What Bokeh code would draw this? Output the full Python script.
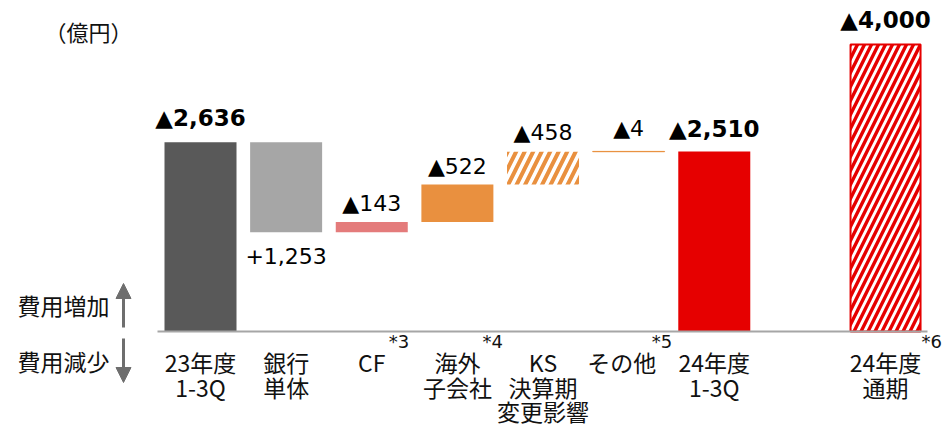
from bokeh.plotting import figure
from bokeh.models import Range1d, Arrow, NormalHead
from bokeh.embed import file_html
from bokeh.resources import INLINE
from bokeh.core.properties import value

# ---------------- data ----------------
label_line1 = ["23年度", "銀行", "CF", "海外", "KS", "その他", "24年度", "24年度"]
label_line2 = ["1-3Q", "単体", "", "子会社", "決算期", "", "1-3Q", "通期"]
label_line3 = ["", "", "", "", "変更影響", "", "", ""]
notes = ["", "", "*3", "*4", "", "*5", "", "*6"]

start_total = 2636                      # 23年度1-3Q
changes = [-1253, 143, 522, 458, 4]     # 銀行単体, CF, 海外子会社, KS, その他
end_total = 2510                        # 24年度1-3Q
full_year = 4000                        # 24年度通期

# ---------------- derived waterfall ----------------
bottoms, tops, vals = [0], [start_total], [start_total]
level = start_total
for c in changes:
    new = level + c
    bottoms.append(min(level, new))
    tops.append(max(level, new))
    vals.append(c)
    level = new
bottoms += [0, 0]
tops += [end_total, full_year]
vals += [end_total, full_year]

xs = [0, 1, 2, 3, 4, 5, 6, 8]
labels = [("▲" if v > 0 else "+") + f"{abs(v):,}" for v in vals]

# ---------------- figure geometry ----------------
W, H = 945, 426
STEP = 85.63          # px per category
SCALE = 0.07175       # px per 億円
X0 = -200 / STEP
X1 = X0 + W / STEP
Y1 = 331 / SCALE
Y0 = Y1 - H / SCALE
TB = 9                # text baseline correction (px)

def sx(px):
    return X0 + px / STEP

def ty(py):
    # data y for a text whose baseline should sit at screen row py
    return Y1 - (py - TB) / SCALE

PXX = 1 / STEP
PXY = 1 / SCALE

p = figure(width=W, height=H, x_range=Range1d(X0, X1), y_range=Range1d(Y0, Y1),
           output_backend="svg", toolbar_location=None, min_border=0,
           outline_line_color=None, background_fill_color="white",
           border_fill_color="white")
p.axis.visible = False
p.grid.visible = False

BW = 72 / STEP
colors = ["#595959", "#a6a6a6", "#e47b7b", "#e9903f", "#e9903f", "#e9903f", "#e60000", "#e60000"]

solid = [0, 1, 2, 3, 6]
p.vbar(x=[xs[i] for i in solid], bottom=[bottoms[i] for i in solid],
       top=[tops[i] for i in solid], width=BW,
       fill_color=[colors[i] for i in solid], line_color=None)

# KS hatched
p.vbar(x=[xs[4]], bottom=[bottoms[4]], top=[tops[4]], width=BW,
       fill_color="white", line_color=None,
       hatch_pattern="/", hatch_color=colors[4], hatch_scale=17, hatch_weight=4)

# その他 (thin)
p.vbar(x=[xs[5]], bottom=[bottoms[5]], top=[tops[5]], width=BW,
       fill_color=colors[5], line_color=colors[5], line_width=1)

# 24年度通期 hatched with outline
p.vbar(x=[xs[7]], bottom=[bottoms[7]], top=[tops[7]], width=BW - 2 * PXX,
       fill_color="white", line_color=colors[7], line_width=2,
       hatch_pattern="/", hatch_color=colors[7], hatch_scale=14, hatch_weight=3.4)

# baseline
p.line(x=[sx(157), sx(927)], y=[0, 0], line_color="#a6a6a6", line_width=2)

# ---------------- data labels ----------------
bold_idx = [0, 6, 7]
reg_idx = [2, 3, 4, 5]
gaps = {0: 15, 6: 13, 7: 16, 2: 10, 3: 9, 4: 10, 5: 14}

p.text(x=[xs[i] for i in bold_idx], y=[tops[i] + (gaps[i] + TB) * PXY for i in bold_idx],
       text=[labels[i] for i in bold_idx], text_font=value("DejaVu Sans"),
       text_font_style="bold", text_font_size="23px", text_align="center",
       text_baseline="alphabetic", text_color="#000000")
p.text(x=[xs[i] for i in reg_idx], y=[tops[i] + (gaps[i] + TB) * PXY for i in reg_idx],
       text=[labels[i] for i in reg_idx], text_font=value("DejaVu Sans"),
       text_font_size="22px", text_align="center",
       text_baseline="alphabetic", text_color="#000000")
# decrease label below bar
p.text(x=[xs[1]], y=[bottoms[1] - (33 - TB) * PXY], text=[labels[1]],
       text_font=value("DejaVu Sans"), text_font_size="22px", text_align="center",
       text_baseline="alphabetic", text_color="#000000")

# ---------------- category labels ----------------
cat_x = [x for x in xs]
cat_x[5] = xs[5] - 7 * PXX
for lines, base in ((label_line1, 370), (label_line2, 395), (label_line3, 419)):
    idx = [i for i, t in enumerate(lines) if t]
    p.text(x=[cat_x[i] for i in idx], y=[ty(base)] * len(idx), text=[lines[i] for i in idx],
           text_font=value("Noto Sans CJK JP"), text_font_size="23px",
           text_align="center", text_baseline="alphabetic", text_color="#111111")

note_off = {2: 17, 3: 25, 5: 23, 7: 36}
idx = [i for i, t in enumerate(notes) if t]
p.text(x=[xs[i] + note_off[i] * PXX for i in idx], y=[ty(350)] * len(idx),
       text=[notes[i] for i in idx], text_font=value("DejaVu Sans"),
       text_font_size="18px", text_align="left", text_baseline="alphabetic",
       text_color="#111111")

# ---------------- side annotations ----------------
p.text(x=[sx(88)], y=[ty(39)], text=["（億円）"], text_font=value("Noto Sans CJK JP"),
       text_font_size="22px", text_align="center", text_baseline="alphabetic",
       text_color="#111111")
p.text(x=[sx(63), sx(63)], y=[ty(313), ty(369)], text=["費用増加", "費用減少"],
       text_font=value("Noto Sans CJK JP"), text_font_size="23px",
       text_align="center", text_baseline="alphabetic", text_color="#111111")

arrow_col = "#6e6e6e"
p.add_layout(Arrow(end=NormalHead(size=15, fill_color=arrow_col, line_color=arrow_col),
                   x_start=sx(123), y_start=ty(327 + TB), x_end=sx(123), y_end=ty(283 + TB),
                   line_color=arrow_col, line_width=3))
p.add_layout(Arrow(end=NormalHead(size=15, fill_color=arrow_col, line_color=arrow_col),
                   x_start=sx(123), y_start=ty(338 + TB), x_end=sx(123), y_end=ty(382 + TB),
                   line_color=arrow_col, line_width=3))

open("out.html", "w").write(file_html(p, INLINE))
